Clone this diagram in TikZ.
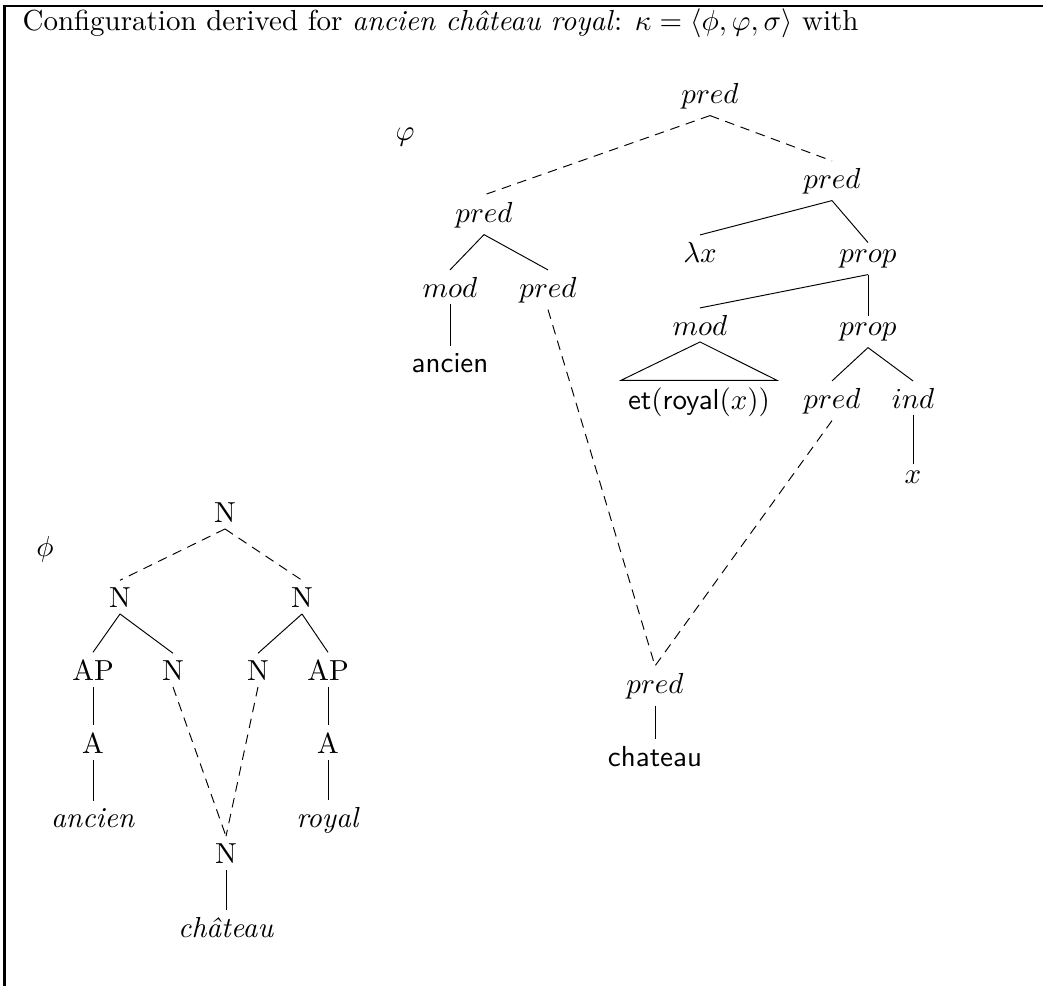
\documentclass[tikz,border=0pt]{standalone}
\begin{document}
\begin{tikzpicture}[x=0.345pt,y=-0.345pt,
  lbl/.style={anchor=base,inner sep=2.2pt},
  tedge/.style={line width=0.33pt},
  dedge/.style={line width=0.33pt,dash pattern=on 3.3pt off 2.3pt}]
\useasboundingbox (0,0) rectangle (1043,986);
% frame
\draw[line width=1.0pt] (4.5,986) -- (4.5,5.5);
\draw[line width=0.75pt] (3,6) -- (1043,6);
% header
\node[anchor=base west,inner sep=0pt] (head) at (22,31) {Configuration derived for \textit{ancien ch\^ateau royal}: $\kappa=\langle\phi,\varphi,\sigma\rangle$ with};

% ---------- phi tree ----------
\node[lbl] (philab) at (45,556) {$\phi$};
\node[lbl] (n0) at (225,522) {N};
\node[lbl] (n1) at (120,607) {N};
\node[lbl] (n2) at (302,607) {N};
\node[lbl] (ap1) at (93,680) {AP};
\node[lbl] (n3) at (173,680) {N};
\node[lbl] (n4) at (258,680) {N};
\node[lbl] (ap2) at (328,680) {AP};
\node[lbl] (a1) at (93,753) {A};
\node[lbl] (a2) at (328,753) {A};
\node[lbl] (w1) at (93,827) {\textit{ancien}};
\node[lbl] (w2) at (328,827) {\textit{royal}};
\node[lbl] (n5) at (226,863) {N};
\node[lbl] (w3) at (226,937) {\textit{ch\^ateau}};
\draw[dedge] (n0.south) -- (n1.north);
\draw[dedge] (n0.south) -- (n2.north);
\draw[tedge] (n1.south) -- (ap1.north);
\draw[tedge] (n1.south) -- (n3.north);
\draw[tedge] (n2.south) -- (n4.north);
\draw[tedge] (n2.south) -- (ap2.north);
\draw[tedge] (ap1.south) -- (a1.north);
\draw[tedge] (ap2.south) -- (a2.north);
\draw[tedge] (a1.south) -- (w1.north);
\draw[tedge] (a2.south) -- (w2.north);
\draw[dedge] (n3.south) -- (n5.north);
\draw[dedge] (n4.south) -- (n5.north);
\draw[tedge] (n5.south) -- (w3.north);

% ---------- varphi tree ----------
\node[lbl] (vphilab) at (405,140) {$\varphi$};
\node[lbl] (p0) at (710,103) {$pred$};
\node[lbl] (p1) at (484,222) {$pred$};
\node[lbl] (p2) at (832,188) {$pred$};
\node[lbl] (m1) at (450,297) {$mod$};
\node[lbl] (p3) at (548,297) {$pred$};
\node[lbl] (anc) at (450,372) {\textsf{ancien}};
\node[lbl] (lx) at (700,262) {$\lambda x$};
\node[lbl] (pr1) at (868,262) {$prop$};
\node[lbl] (m2) at (700,335) {$mod$};
\node[lbl] (pr2) at (868,335) {$prop$};
\node[lbl] (et) at (699,409) {\textsf{et}$($\textsf{royal}$(x))$};
\node[lbl] (p4) at (832,408) {$pred$};
\node[lbl] (ind) at (913,408) {$ind$};
\node[lbl] (xv) at (913,483) {$x$};
\node[lbl] (p5) at (655,693) {$pred$};
\node[lbl] (cht) at (655,766) {\textsf{chateau}};
\draw[dedge] (p0.south) -- (p1.north);
\draw[dedge] (p0.south) -- (p2.north);
\draw[tedge] (p1.south) -- (m1.north);
\draw[tedge] (p1.south) -- (p3.north);
\draw[tedge] (m1.south) -- (anc.north);
\draw[tedge] (p2.south) -- (lx.north);
\draw[tedge] (p2.south) -- (pr1.north);
\draw[tedge] (pr1.south) -- (m2.north);
\draw[tedge] (pr1.south) -- (pr2.north);
\draw[tedge] (m2.south) -- (et.north west) -- (et.north east) -- cycle;
\draw[tedge] (pr2.south) -- (p4.north);
\draw[tedge] (pr2.south) -- (ind.north);
\draw[tedge] (ind.south) -- (xv.north);
\draw[dedge] (p3.south) -- (p5.north);
\draw[dedge] (p4.south) -- (p5.north);
\draw[tedge] (p5.south) -- (cht.north);
\end{tikzpicture}
\end{document}
